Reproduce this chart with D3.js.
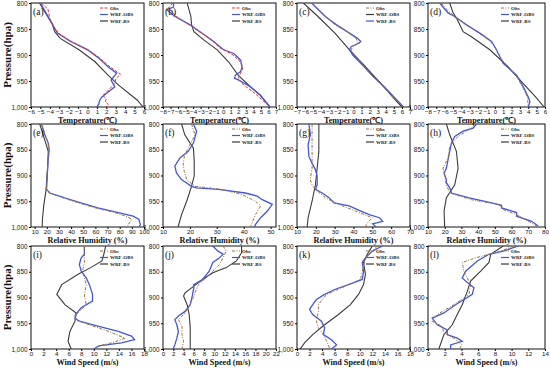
<!DOCTYPE html>
<html>
<head>
<meta charset="utf-8">
<script src="https://cdn.jsdelivr.net/npm/d3@7"></script>
<style>
  html, body { margin: 0; padding: 0; background: #fff; }
  svg { display: block; font-family: "Liberation Serif", "Times New Roman", serif; }
</style>
</head>
<body>
<div id="chart"></div>
<script>
// ---- data: [pressure (hPa), value] ----
// row 1: temperature (°C)
const aObs = [[800,-4.9],[812,-4.2],[830,-4.0],[845,-3.6],[858,-3.1],[874,-1.7],[890,0.1],[906,1.3],[923,2.4],[937,3.5],[946,3.0],[955,2.9],[962,2.5],[972,2.0],[978,1.6],[984,2.0],[990,1.9],[995,2.2],[1000,2.0]];
const aOBS = [[800,-5.0],[842,-3.7],[858,-3.2],[874,-1.8],[890,0.0],[906,1.2],[923,2.2],[935,3.1],[948,2.5],[961,2.9],[971,2.2],[981,1.5],[987,1.3],[994,1.2],[1000,1.0]];
const aBS  = [[800,-5.1],[842,-3.7],[855,-3.5],[868,-2.9],[890,-0.9],[913,0.8],[939,2.2],[958,3.3],[987,5.3],[1000,5.9]];

const bObs = [[800,-6.7],[810,-7.3],[815,-6.9],[826,-6.2],[842,-4.5],[858,-2.9],[874,-1.2],[885,-0.6],[892,0.3],[900,1.3],[912,2.2],[925,2.6],[935,2.3],[945,2.0],[955,2.5],[975,4.3],[1000,6.2]];
const bOBS = [[800,-6.6],[808,-6.6],[813,-7.5],[826,-6.4],[842,-4.4],[858,-2.8],[874,-1.3],[890,0.05],[897,1.4],[910,2.3],[923,2.5],[932,2.3],[939,1.6],[945,1.5],[948,2.0],[961,3.6],[977,4.9],[1000,6.2]];
const bBS  = [[800,-4.8],[810,-4.6],[826,-4.3],[842,-4.2],[855,-3.9],[871,-2.6],[890,-0.8],[913,0.7],[939,2.0],[961,3.6],[977,4.9],[1000,6.2]];

const cObs = [[800,-5.1],[826,-3.4],[842,-2.3],[855,-0.8],[868,0.3],[877,0.6],[884,-0.1],[890,-0.3],[900,0.1],[916,1.0],[939,2.2],[961,3.7],[987,5.3],[1000,6.1]];
const cOBS = [[800,-5.2],[826,-3.5],[842,-2.1],[858,-0.5],[868,0.5],[874,0.9],[877,0.7],[884,-0.3],[890,-0.5],[900,-0.1],[916,0.9],[939,2.3],[961,3.8],[987,5.4],[1000,6.2]];
const cBS  = [[800,-6.2],[826,-4.4],[858,-2.3],[890,-0.5],[923,1.5],[955,3.4],[987,5.2],[1000,6.0]];

const dObs = [[800,-6.4],[812,-5.8],[819,-5.3],[826,-4.9],[842,-3.3],[858,-1.9],[874,-0.5],[890,0.2],[910,0.9],[939,2.5],[961,3.3],[981,3.9],[1000,4.0]];
const dOBS = [[800,-6.6],[819,-5.6],[826,-4.8],[842,-3.4],[858,-1.8],[874,-0.4],[890,0.2],[897,0.4],[910,0.8],[916,1.0],[939,2.6],[961,3.4],[981,4.0],[990,4.2],[1000,4.0]];
const dBS  = [[800,-5.4],[819,-5.0],[829,-4.6],[842,-4.2],[855,-3.8],[865,-2.8],[890,-0.6],[923,1.6],[955,3.4],[981,4.9],[1000,5.9]];

// row 2: relative humidity (%)
const eObs = [[800,15.8],[821,18.6],[837,21.0],[850,21.8],[872,20.8],[927,19.6],[934,22.0],[943,33.0],[953,46.0],[963,60.0],[972,76.0],[979,85.0],[985,90.0],[992,88.0],[1000,86.0]];
const eOBS = [[800,15.6],[821,18.4],[837,21.2],[850,22.0],[872,21.0],[927,19.8],[934,22.6],[943,34.0],[953,48.0],[963,62.0],[972,79.0],[979,91.0],[985,95.7],[995,97.0],[1000,96.0]];
const eBS  = [[800,14.2],[821,17.0],[853,21.2],[885,20.7],[930,19.3],[956,17.6],[982,16.5],[1000,16.2]];

const fObs = [[800,20.6],[821,21.9],[837,20.4],[860,18.0],[879,17.5],[892,17.9],[908,18.8],[921,21.9],[927,31.9],[937,39.4],[950,44.4],[959,46.3],[976,44.4],[1000,42.5]];
const fOBS = [[800,21.3],[814,22.5],[837,21.3],[853,19.4],[866,16.3],[882,14.4],[895,15.0],[908,16.9],[921,20.6],[924,22.5],[927,30.6],[934,40.6],[940,45.0],[947,46.9],[956,50.6],[969,48.8],[982,46.3],[995,44.4],[1000,44.0]];
const fBS  = [[800,16.9],[821,18.1],[847,21.3],[872,21.6],[901,21.6],[921,20.6],[950,18.8],[976,16.9],[1000,15.6]];

const gObs = [[800,18.0],[850,18.0],[886,18.0],[908,17.0],[918,18.0],[927,19.8],[943,25.0],[956,32.0],[969,41.0],[982,50.0],[995,46.6],[1000,47.0]];
const gOBS = [[800,16.3],[821,17.1],[840,15.9],[863,16.3],[876,18.0],[889,19.8],[901,20.7],[918,20.7],[927,19.8],[934,23.4],[943,27.0],[953,29.6],[959,37.7],[969,43.9],[976,48.4],[982,53.8],[989,55.5],[994,50.2],[1000,52.0]];
const gBS  = [[800,21.6],[853,21.6],[886,20.7],[918,19.8],[950,18.0],[982,15.9],[1000,15.4]];

const hObs = [[800,38],[808,36],[824,28],[843,23],[866,22],[886,19],[902,20],[918,21],[934,23],[947,36],[956,52],[966,55],[976,63],[989,70],[998,75]];
const hOBS = [[800,39],[808,37],[814,31],[824,26],[837,24],[853,23],[869,22],[886,21],[895,19.6],[908,21],[914,21],[924,23],[934,24],[943,34],[953,48],[958,54],[963,54],[972,63],[979,63],[989,72],[998,76]];
const hBS  = [[800,21],[821,23],[853,27],[886,28],[918,26],[943,21],[969,19.6],[1000,20]];

// row 3: wind speed (m/s)
const iObs = [[800,8.5],[832,8.5],[849,8.2],[875,8.8],[897,8.5],[914,8.8],[933,7.2],[943,7.0],[953,9.3],[966,12.4],[979,15.0],[988,12.9],[994,10.8],[1000,10.0]];
const iOBS = [[800,8.5],[816,8.5],[823,8.0],[836,7.7],[849,8.0],[862,8.8],[875,9.3],[894,9.8],[907,9.8],[920,8.0],[933,7.1],[940,7.0],[946,7.7],[956,10.8],[966,13.9],[975,16.0],[982,16.5],[988,14.4],[994,10.8],[1000,10.0]];
const iBS  = [[800,11.9],[816,11.6],[829,11.3],[842,9.5],[855,7.5],[875,4.9],[894,4.1],[914,5.4],[930,7.2],[946,7.0],[966,6.2],[985,5.9],[1000,6.4]];

const jObs = [[800,11.7],[810,12.3],[823,11.7],[836,11.0],[849,9.7],[865,8.0],[878,6.7],[897,6.0],[914,5.3],[930,4.3],[943,3.0],[956,3.7],[972,3.7],[985,4.0],[1000,3.7]];
const jOBS = [[800,9.7],[810,10.7],[816,11.7],[823,11.0],[832,9.7],[849,9.0],[865,7.7],[875,6.0],[881,6.0],[897,5.7],[914,5.3],[927,4.3],[936,3.0],[943,2.3],[953,2.7],[966,3.0],[979,2.7],[992,2.3],[1000,2.0]];
const jBS  = [[800,15.3],[813,15.3],[829,14.3],[842,12.3],[852,9.7],[865,7.7],[878,6.0],[891,4.3],[897,4.0],[914,4.7],[933,5.1],[959,5.3],[1000,5.3]];

const kObs = [[800,12.8],[823,10.9],[865,10.1],[878,7.7],[894,4.7],[914,3.4],[927,3.4],[946,3.1],[959,3.4],[972,4.2],[992,5.0],[1000,5.2]];
const kOBS = [[800,13.6],[810,12.0],[823,10.9],[832,10.4],[849,10.6],[865,10.4],[875,8.2],[884,6.1],[894,4.4],[904,3.1],[914,2.5],[923,2.0],[933,2.5],[946,3.9],[959,4.4],[972,4.2],[982,5.5],[992,6.3],[1000,5.5]];
const kBS  = [[800,12.0],[816,11.2],[832,10.6],[855,10.9],[875,10.6],[894,9.8],[914,8.5],[933,6.6],[953,4.4],[972,2.5],[988,1.2],[1000,0.5]];

const lObs = [[800,10.2],[810,8.7],[823,5.7],[832,4.1],[849,4.3],[875,5.1],[894,4.9],[914,3.1],[933,1.1],[946,0.5],[956,1.7],[969,1.9],[979,3.1],[992,4.1],[1000,3.7]];
const lOBS = [[800,10.8],[810,9.0],[816,7.3],[829,5.9],[849,4.5],[862,4.1],[868,4.5],[881,5.5],[894,5.3],[914,3.3],[930,1.9],[940,0.5],[953,1.1],[963,2.3],[972,2.3],[979,3.5],[985,4.1],[992,2.7],[1000,2.7]];
const lBS  = [[800,9.0],[816,7.5],[832,7.3],[849,6.3],[868,5.1],[888,4.7],[914,4.1],[933,3.5],[953,2.9],[972,1.9],[1000,1.3]];

// axes
const pressureTicks = [800, 850, 900, 950, 1000];
const panelLabels = ['(a)','(b)','(c)','(d)','(e)','(f)','(g)','(h)','(i)','(j)','(k)','(l)'];
const xDomains = [[-6,6],[-8,7],[-7,7],[-8,6],[7,100],[10,52],[10,70],[10,80],[0,18],[0,22],[0,18],[0,14]];
const xTicks = [
  d3.range(-6, 7), d3.range(-8, 8), d3.range(-7, 8), d3.range(-8, 7),
  d3.range(10, 101, 10), d3.range(10, 51, 10), d3.range(10, 71, 10), d3.range(10, 81, 10),
  d3.range(0, 19, 2), d3.range(0, 23, 2), d3.range(0, 19, 2), d3.range(0, 15, 2)
];
const xTitles = ['Temperature(\u2103)', 'Relative Humidity (%)', 'Wind Speed (m/s)'];
const seriesNames = ['Obs', 'WRF-OBS', 'WRF-BS'];
const panelData = [
  [aObs, aOBS, aBS], [bObs, bOBS, bBS], [cObs, cOBS, cBS], [dObs, dOBS, dBS],
  [eObs, eOBS, eBS], [fObs, fOBS, fBS], [gObs, gOBS, gBS], [hObs, hOBS, hBS],
  [iObs, iOBS, iBS], [jObs, jOBS, jBS], [kObs, kOBS, kBS], [lObs, lOBS, lBS]
];

// layout
const W = 550, H = 368;
const colX = [[31, 144], [163, 276], [297, 410], [428, 545]];
const rowY = [[3, 107], [124, 227], [246, 349]];
const BLUE = '#4557d6', DARK = '#3a3a3a', RED = '#e0342c', BROWN = '#9a7242';

const svg = d3.select('#chart').append('svg')
  .attr('width', W).attr('height', H)
  .attr('viewBox', `0 0 ${W} ${H}`);

const defs = svg.append('defs');

panelData.forEach((series, i) => {
  const row = Math.floor(i / 4), col = i % 4;
  const [x0, x1] = colX[col];
  const [y0, y1] = rowY[row];

  const x = d3.scaleLinear().domain(xDomains[i]).range([x0, x1]);
  const y = d3.scaleLinear().domain([800, 1000]).range([y0, y1]);

  const g = svg.append('g');

  defs.append('clipPath').attr('id', 'clip' + i)
    .append('rect').attr('x', x0).attr('y', y0)
    .attr('width', x1 - x0).attr('height', y1 - y0);

  // axes
  g.append('g')
    .attr('transform', `translate(0,${y1})`)
    .call(d3.axisBottom(x).tickValues(xTicks[i]).tickSize(2).tickPadding(1).tickFormat(d3.format('d')))
    .call(a => a.select('.domain').remove())
    .call(a => a.selectAll('text').attr('font-size', 6.2).attr('fill', '#111'));

  g.append('g')
    .attr('transform', `translate(${x0},0)`)
    .call(d3.axisLeft(y).tickValues(pressureTicks).tickSize(2).tickPadding(1.5))
    .call(a => a.select('.domain').remove())
    .call(a => a.selectAll('text').attr('font-size', 6.4).attr('fill', '#111'));

  g.append('rect')
    .attr('x', x0).attr('y', y0)
    .attr('width', x1 - x0).attr('height', y1 - y0)
    .attr('fill', 'none').attr('stroke', '#111').attr('stroke-width', 1);

  const line = d3.line().x(d => x(d[1])).y(d => y(d[0]));
  const obsColor = i < 2 ? RED : BROWN;
  const obsDash = i < 2 ? '3,1.5' : '3,1.5,1,1.5';

  const lines = g.append('g').attr('clip-path', `url(#clip${i})`);
  lines.append('path').datum(series[2]).attr('d', line)
    .attr('fill', 'none').attr('stroke', DARK).attr('stroke-width', 1.1);
  lines.append('path').datum(series[1]).attr('d', line)
    .attr('fill', 'none').attr('stroke', BLUE).attr('stroke-width', 1.3);
  lines.append('path').datum(series[0]).attr('d', line)
    .attr('fill', 'none').attr('stroke', obsColor).attr('stroke-width', 1)
    .attr('stroke-dasharray', obsDash);

  // panel label
  g.append('text').attr('x', x0 + 2).attr('y', y0 + 12)
    .attr('font-size', 9.5).attr('fill', '#111').text(panelLabels[i]);

  // legend (panel c has its line colours swapped in the source)
  const legColors = i === 2 ? [obsColor, DARK, BLUE] : [obsColor, BLUE, DARK];
  seriesNames.forEach((name, k) => {
    const ly = y0 + 5 + k * 6.5;
    g.append('line')
      .attr('x1', x1 - 44).attr('x2', x1 - 36).attr('y1', ly).attr('y2', ly)
      .attr('stroke', legColors[k]).attr('stroke-width', k === 0 ? 1 : 1.2)
      .attr('stroke-dasharray', k === 0 ? obsDash : null);
    g.append('text').attr('x', x1 - 34).attr('y', ly + 1.8)
      .attr('font-size', 5).attr('font-weight', 'bold').attr('fill', '#222').text(name);
  });

  // x title
  g.append('text')
    .attr('x', (x0 + x1) / 2).attr('y', y1 + 15.5)
    .attr('text-anchor', 'middle').attr('font-size', 8.2).attr('font-weight', 'bold')
    .attr('fill', '#111').text(xTitles[row]);

  // y title (first column only)
  if (col === 0) {
    g.append('text')
      .attr('transform', `translate(11,${(y0 + y1) / 2}) rotate(-90)`)
      .attr('text-anchor', 'middle').attr('font-size', 11).attr('font-weight', 'bold')
      .attr('fill', '#111').text('Pressure(hpa)');
  }
});
</script>
</body>
</html>
